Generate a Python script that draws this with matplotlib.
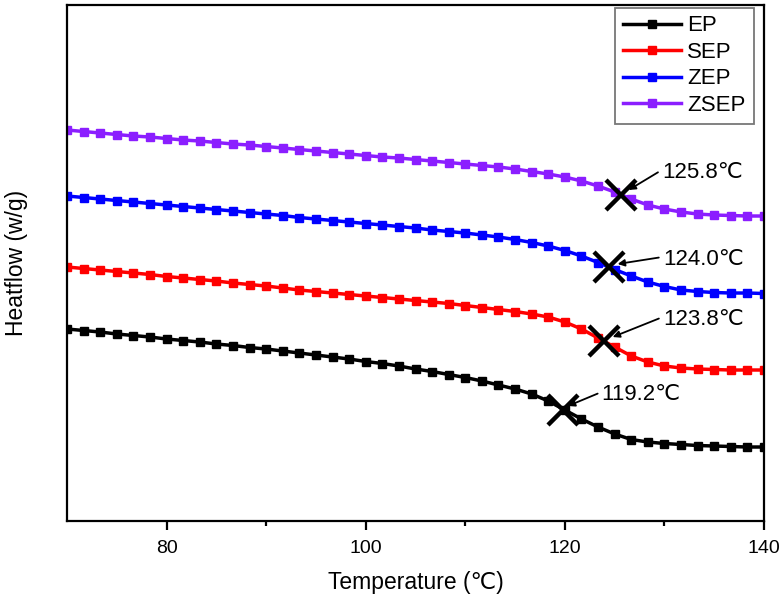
import numpy as np
import matplotlib
matplotlib.use('Agg')
import matplotlib.pyplot as plt

plt.rcParams['font.family'] = ['Liberation Sans', 'DejaVu Sans']

# temperature grid of the recorded points (deg C)
temp = [70.0, 71.67, 73.33, 75.0, 76.67, 78.33, 80.0, 81.67, 83.33, 85.0, 86.67,
        88.33, 90.0, 91.67, 93.33, 95.0, 96.67, 98.33, 100.0, 101.67, 103.33, 105.0,
        106.67, 108.33, 110.0, 111.67, 113.33, 115.0, 116.67, 118.33, 120.0, 121.67,
        123.33, 125.0, 126.67, 128.33, 130.0, 131.67, 133.33, 135.0, 136.67, 138.33, 140.0]

# heat flow, arbitrary units (curves offset for clarity)
ep = [192, 190.5, 189, 187, 185.5, 184, 182, 180.5, 179, 177, 175.5, 173.5, 172, 170,
      168, 166, 164, 162, 159.5, 157.5, 155, 152, 149.5, 146.5, 143.5, 140, 136, 132,
      127, 120, 111, 102, 94, 87, 81.5, 79, 77.5, 76.5, 75.5, 75, 74.5, 74, 74]
sep = [254, 252.5, 251, 249.5, 248, 246.5, 244.5, 243, 241.5, 240, 238, 236.5, 235, 233,
       231, 229.5, 228, 226.5, 225, 223.5, 222, 220.5, 219, 217.5, 215.5, 213.5, 211.5,
       209.5, 207, 204, 199, 192, 183, 174, 165, 159, 155, 153, 152, 151.5, 151, 151, 151]
zep = [325, 323.5, 322, 320.5, 319, 317.5, 316, 314.5, 313, 311.5, 310, 308.5, 307, 305.5,
       303.5, 302, 300.5, 299, 297.5, 296, 294.5, 293, 291, 289.5, 288, 286, 284, 281.5,
       278.5, 275, 270.5, 265, 258.5, 251.5, 245, 239, 234.5, 231, 229.5, 228.5, 228, 228, 227.5]
zsep = [391, 389.5, 388, 386.5, 385, 384, 382.5, 381, 380, 378.5, 377, 376, 374.5, 373,
        371.5, 370, 368.5, 367, 365.5, 364, 363, 361.5, 360, 358.5, 357, 355.5, 354, 352,
        349.5, 347, 344, 340, 335, 329, 322, 316, 312, 309, 307, 306, 305.5, 305, 305]

names = ['EP', 'SEP', 'ZEP', 'ZSEP']
colors = ['black', '#FF0000', '#0000FF', '#8B1EFF']

# glass transition marks: (x, y) of cross, label, text position
tg_x = [119.8, 123.9, 124.4, 125.6]
tg_y = [111, 180, 254, 326]
tg_labels = ['119.2℃', '123.8℃', '124.0℃', '125.8℃']
text_x = [123.7, 129.85, 129.85, 129.75]
text_y = [127, 202, 262, 349]
head_x = [120.3, 124.8, 125.3, 126.4]
head_y = [115, 184, 257, 331]

fig = plt.figure(figsize=(7.84, 6.04), dpi=100)
ax = fig.add_axes([0.0855, 0.1374, 0.889, 0.8543])

for vals, name, c in zip([ep, sep, zep, zsep], names, colors):
    ax.plot(temp, vals, '-s', color=c, lw=2.5, ms=5.5, label=name)

ax.plot(tg_x, tg_y, 'x', color='black', ms=22, mew=3.2, linestyle='none')

for lab, tx, ty, hx, hy in zip(tg_labels, text_x, text_y, head_x, head_y):
    ax.annotate(lab, xy=(hx, hy), xytext=(tx, ty), ha='left', va='center', fontsize=16,
                arrowprops=dict(arrowstyle='-|>', color='black', lw=1.3,
                                mutation_scale=10, shrinkA=1, shrinkB=0,
                                relpos=(0, 0.6)))

ax.set_xlim(70, 140)
ax.set_ylim(0, 516)
ax.set_xticks([80, 100, 120, 140])
ax.set_xticks([90, 110, 130], minor=True)
ax.set_yticks([])
ax.tick_params(axis='x', which='major', direction='out', length=6.5, width=1.6,
               labelsize=14, pad=7)
ax.tick_params(axis='x', which='minor', direction='out', length=3.5, width=1.6)
for s in ax.spines.values():
    s.set_linewidth(1.6)

ax.set_xlabel('Temperature (℃)', fontsize=16.5, labelpad=10)
ax.set_ylabel('Heatflow (w/g)', fontsize=16.5)
ax.yaxis.set_label_coords(-0.056, 0.5)

leg = ax.legend(loc='upper right', bbox_to_anchor=(0.985, 0.995), borderaxespad=0,
                fontsize=16, frameon=True, fancybox=False, edgecolor='#555555',
                handlelength=2.6, borderpad=0.35, labelspacing=0.25, handletextpad=0.3)
leg.get_frame().set_linewidth(1.3)

fig.savefig('out.png', dpi=100)
